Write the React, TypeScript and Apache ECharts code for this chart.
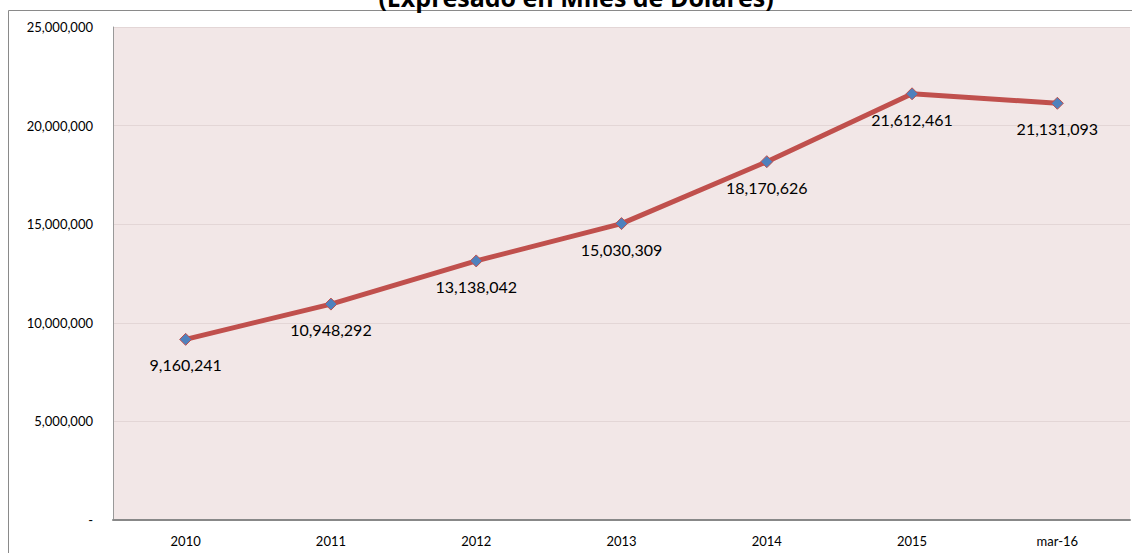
import React, { useEffect, useRef } from "react";
import * as echarts from "echarts";

const categories = ["2010", "2011", "2012", "2013", "2014", "2015", "mar-16"];
const values = [9160241, 10948292, 13138042, 15030309, 18170626, 21612461, 21131093];
const titleText = "(Expresado en Miles de Dólares)";

export default function App() {
  const ref = useRef<HTMLDivElement>(null);
  useEffect(() => {
    document.body.style.margin = "0";
    const chart = echarts.init(ref.current!, null, { renderer: "svg" });
    const fmt = (v: number) => (v === 0 ? "-" : v.toLocaleString("en-US"));
    chart.setOption({
      animation: false,
      backgroundColor: "#ffffff",
      graphic: [
        {
          type: "polyline",
          shape: { points: [[8.5, 553], [8.5, 10.5], [1132, 10.5]] },
          style: { stroke: "#8a8a8a", lineWidth: 1, fill: "none" },
          z: 0,
        },
        {
          type: "text",
          x: 576,
          y: 9,
          style: {
            text: titleText,
            font: "bold 25px 'Open Sans', sans-serif",
            fill: "#000",
            align: "center",
            verticalAlign: "bottom",
          },
        },
      ],
      grid: {
        left: 113,
        top: 27,
        right: 2,
        bottom: 33,
        show: true,
        backgroundColor: "#F2E7E7",
        borderWidth: 0,
      },
      xAxis: {
        type: "category",
        data: categories,
        boundaryGap: true,
        axisLine: { show: true, lineStyle: { color: "#888888", width: 2 } },
        axisTick: { show: false },
        axisLabel: {
          color: "#000",
          fontFamily: "Lato, sans-serif",
          fontSize: 13,
          margin: 14,
        },
      },
      yAxis: {
        type: "value",
        min: 0,
        max: 25000000,
        interval: 5000000,
        axisLine: { show: true, lineStyle: { color: "#999999", width: 1 } },
        axisTick: { show: false },
        splitLine: { show: true, lineStyle: { color: "#E3D6D6", width: 1 } },
        axisLabel: {
          color: "#000",
          fontFamily: "Lato, sans-serif",
          fontSize: 13,
          margin: 20,
          formatter: fmt,
        },
      },
      series: [
        {
          type: "line",
          data: values,
          lineStyle: { color: "#C0504D", width: 5 },
          symbol: "diamond",
          symbolSize: 12,
          itemStyle: { color: "#4F81BD", borderColor: "#C0504D", borderWidth: 1 },
          label: {
            show: true,
            position: "bottom",
            distance: 11,
            color: "#000",
            fontFamily: "Lato, sans-serif",
            fontSize: 16,
            formatter: (p: any) => fmt(p.value),
          },
        },
      ],
    });
    return () => chart.dispose();
  }, []);
  return <div ref={ref} style={{ width: 1132, height: 553 }} />;
}
